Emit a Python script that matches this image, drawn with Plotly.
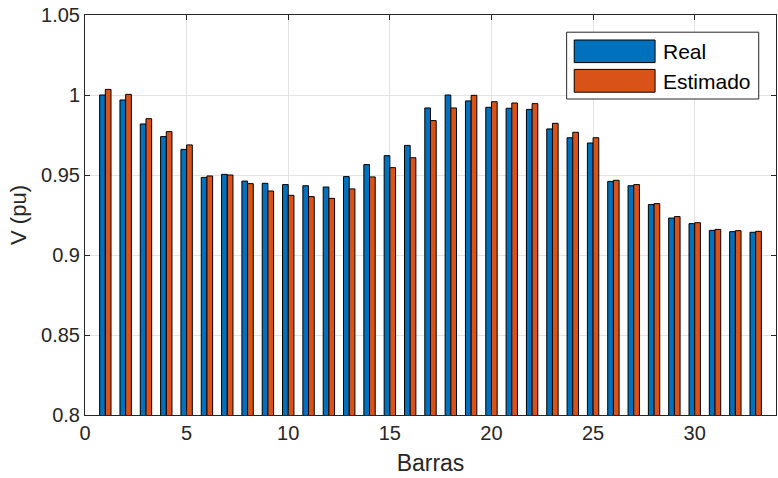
import plotly.graph_objects as go

barras = list(range(1, 34))
real = [1.000, 0.9969, 0.9819, 0.9740, 0.9660, 0.9485, 0.9504, 0.9462, 0.9448, 0.9440,
        0.9433, 0.9425, 0.9490, 0.9565, 0.9621, 0.9685, 0.9919, 1.0000, 0.9963, 0.9923,
        0.9917, 0.9910, 0.9788, 0.9733, 0.9700, 0.9460, 0.9433, 0.9315, 0.9231, 0.9196,
        0.9154, 0.9146, 0.9142]
estimado = [1.0035, 1.0004, 0.9852, 0.9771, 0.9688, 0.9494, 0.9500, 0.9446, 0.9400, 0.9373,
            0.9365, 0.9354, 0.9413, 0.9488, 0.9546, 0.9608, 0.9840, 0.9919, 0.9998, 0.9958,
            0.9950, 0.9946, 0.9823, 0.9767, 0.9733, 0.9467, 0.9440, 0.9321, 0.9240, 0.9202,
            0.9160, 0.9152, 0.9148]
x_ticks = [0, 5, 10, 15, 20, 25, 30]
y_ticks = [0.8, 0.85, 0.9, 0.95, 1.0, 1.05]
y_tick_labels = ["0.8", "0.85", "0.9", "0.95", "1", "1.05"]

BLUE = "#0072BD"
ORANGE = "#D95319"
FONT = "Liberation Sans, Arial, Helvetica, sans-serif"

fig = go.Figure()
fig.add_trace(go.Bar(x=barras, y=real, name="Real", marker=dict(color=BLUE, line=dict(color="black", width=1)),
                     showlegend=False))
fig.add_trace(go.Bar(x=barras, y=estimado, name="Estimado", marker=dict(color=ORANGE, line=dict(color="black", width=1)),
                     showlegend=False))

axis_common = dict(showline=True, linecolor="#262626", linewidth=1, mirror="ticks",
                   ticks="inside", ticklen=5, tickcolor="#262626", automargin=False,
                   showgrid=True, gridcolor="#e3e3e3", gridwidth=1, zeroline=False,
                   tickfont=dict(family=FONT, size=20, color="#262626"))

fig.update_layout(
    width=778, height=478,
    margin=dict(l=85, r=2, t=15, b=63),
    paper_bgcolor="white", plot_bgcolor="white",
    barmode="group", bargap=0.44, bargroupgap=0,
    font=dict(family=FONT, color="#262626"),
    xaxis=dict(range=[0, 34], tickvals=x_ticks, ticklabelstandoff=0,
               title=dict(text="Barras", font=dict(size=23), standoff=11),
               **axis_common),
    yaxis=dict(range=[0.8, 1.05], tickvals=y_ticks, ticktext=y_tick_labels,
               title=dict(text="V (pu)", font=dict(size=22), standoff=8), **axis_common),
)

# legend box (MATLAB style)
fig.add_shape(type="rect", xref="paper", yref="paper", x0=0.697, x1=0.975, y0=0.79, y1=0.957,
              line=dict(color="#262626", width=1), fillcolor="white", layer="above")
fig.add_shape(type="rect", xref="paper", yref="paper", x0=0.708, x1=0.825, y0=0.881, y1=0.9375,
              line=dict(color="black", width=1), fillcolor=BLUE, layer="above")
fig.add_shape(type="rect", xref="paper", yref="paper", x0=0.708, x1=0.825, y0=0.807, y1=0.864,
              line=dict(color="black", width=1), fillcolor=ORANGE, layer="above")
fig.add_annotation(xref="paper", yref="paper", x=0.833, y=0.909, text="Real", showarrow=False,
                   xanchor="left", yanchor="middle", font=dict(family=FONT, size=21, color="black"))
fig.add_annotation(xref="paper", yref="paper", x=0.833, y=0.835, text="Estimado", showarrow=False,
                   xanchor="left", yanchor="middle", font=dict(family=FONT, size=21, color="black"))

# remove the default page margin so the figure sits at the window's origin
fig.write_html("out.html", config={"displayModeBar": False},
               post_script="document.body.style.margin='0';document.body.style.overflow='hidden';")
